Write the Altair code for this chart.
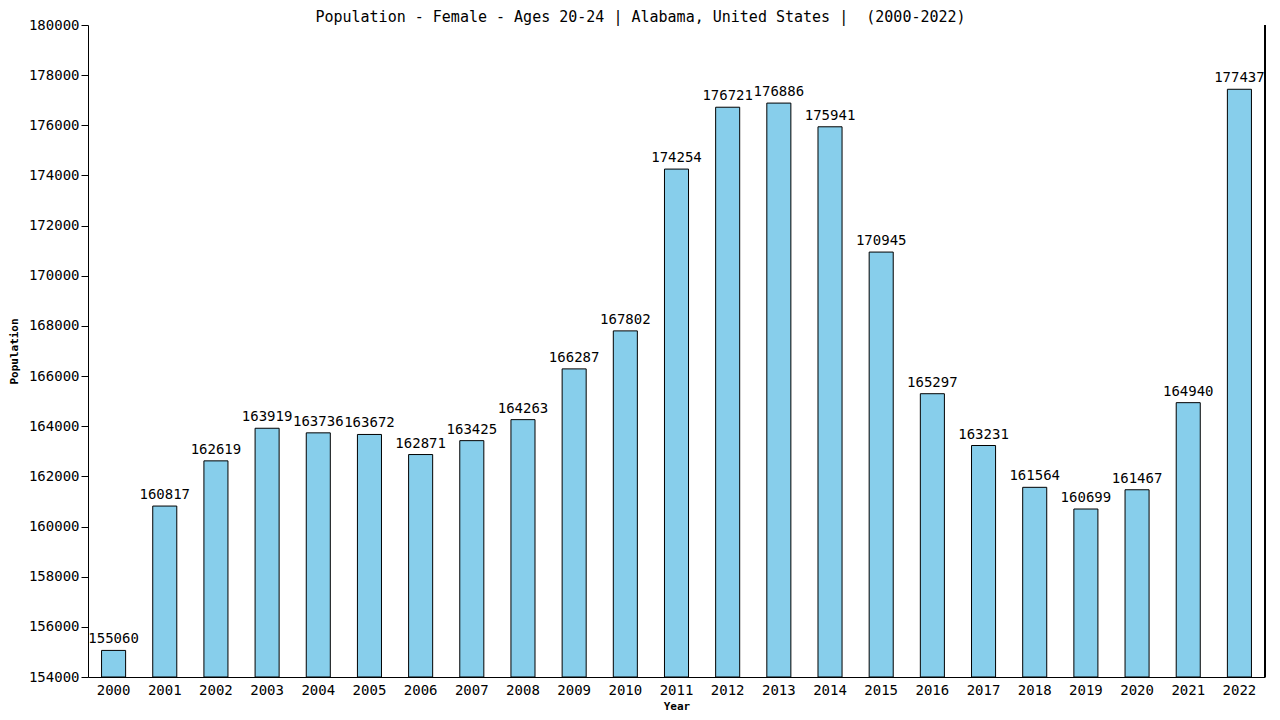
import altair as alt
import pandas as pd

years = [str(y) for y in range(2000, 2023)]
values = [155060, 160817, 162619, 163919, 163736, 163672, 162871, 163425, 164263,
          166287, 167802, 174254, 176721, 176886, 175941, 170945, 165297, 163231,
          161564, 160699, 161467, 164940, 177437]
y_ticks = list(range(154000, 180001, 2000))

df = pd.DataFrame({"Year": years, "Population": values})

FONT = "DejaVu Sans Mono"
W, H = 1177, 652

x_enc = alt.X("Year:N", sort=years,
              scale=alt.Scale(paddingInner=0.53, paddingOuter=0.265),
              axis=alt.Axis(title="Year", labelAngle=0, ticks=False, labelPadding=6,
                            labelFont=FONT, labelFontSize=14, labelColor="black",
                            titleFont=FONT, titleFontSize=11, titleFontWeight="bold",
                            titlePadding=3, domainColor="black", titleColor="black"))
y_scale = alt.Scale(domain=[154000, 180000], nice=False, zero=False)

bars = alt.Chart(df).mark_bar(color="#87CEEB", stroke="black", strokeWidth=1).encode(
    x=x_enc,
    y=alt.Y("Population:Q", scale=y_scale,
            axis=alt.Axis(title="Population", values=y_ticks, format="d", grid=False,
                          labelFont=FONT, labelFontSize=14, labelColor="black",
                          tickColor="black", tickSize=7, domainColor="black",
                          titleFont=FONT, titleFontSize=11, titleFontWeight="bold",
                          titleColor="black", titlePadding=9)),
    y2=alt.datum(154000),
)

labels = alt.Chart(df).mark_text(font=FONT, fontSize=14, baseline="bottom", dy=-4,
                                 color="black").encode(
    x=alt.X("Year:N", sort=years),
    y=alt.Y("Population:Q", scale=y_scale),
    text=alt.Text("Population:Q", format="d"),
)

right_line = alt.Chart(df).mark_rule(color="black", strokeWidth=1).encode(
    x=alt.value(W), y=alt.value(0), y2=alt.value(H)
)

chart = alt.layer(bars, labels, right_line).properties(
    width=W, height=H,
    background="white",
    title=alt.TitleParams("Population - Female - Ages 20-24 | Alabama, United States |\u00a0 (2000-2022)",
                          font=FONT, fontSize=15, fontWeight="normal", color="black",
                          anchor="middle", dx=-36, offset=-7),
    autosize=alt.AutoSizeParams(type="none"),
    padding={"left": 80, "top": 17, "right": 7, "bottom": 35},
).configure_view(strokeWidth=0, stroke="transparent")

chart.save("out.html", embed_options={"renderer": "svg", "actions": False})
